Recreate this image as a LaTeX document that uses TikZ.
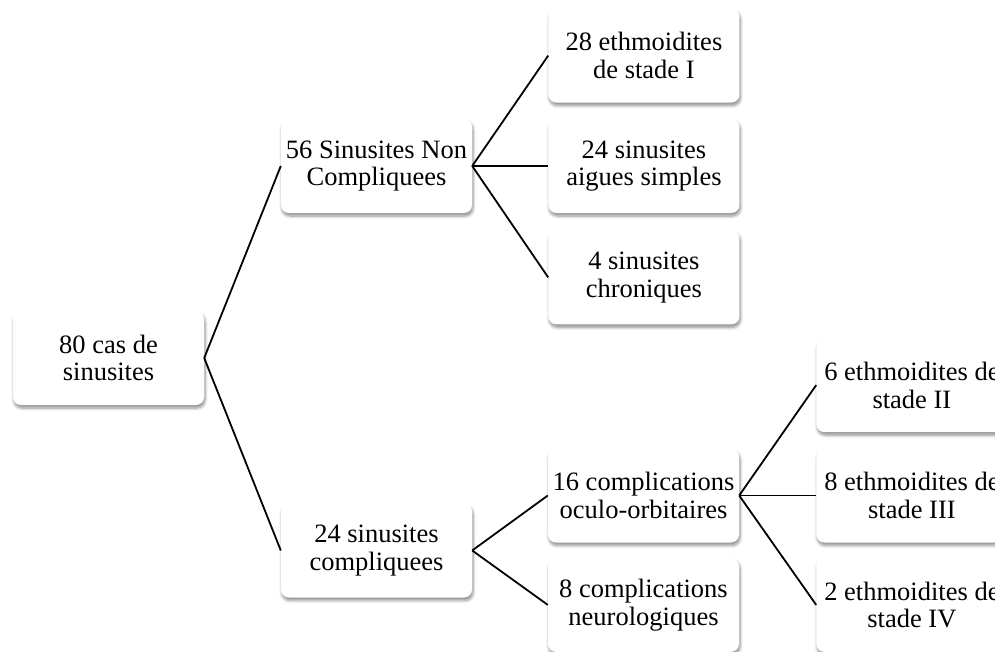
\documentclass[tikz,border=0pt]{standalone}
\usepackage{fontspec}
\setmainfont{Liberation Serif}
\usetikzlibrary{positioning,shadows.blur}

\begin{document}
\begin{tikzpicture}[x=1pt,y=-1pt,
	box/.style={rectangle, rounded corners=8pt, fill=white, minimum width=191pt, minimum height=94pt, inner sep=0pt, align=center, font=\fontsize{26.5}{27.7}\selectfont, blur shadow={shadow xshift=1pt, shadow yshift=-3pt, shadow blur steps=6, shadow blur radius=3pt, shadow opacity=45}},
	link/.style={line width=1.8pt}]
		\useasboundingbox (0,0) rectangle (995,651);
		\clip (0,0) rectangle (995,651);
		\node[box] (root) at (108.5,358) {80 cas de\\sinusites};
		\node[box] (noncomp) at (376.5,166) {56 Sinusites Non\\Compliquees};
		\node[box] (comp) at (376.5,550.5) {24 sinusites\\compliquees};
		\node[box, right=76pt of noncomp] (aigues) {24 sinusites\\aigues simples};
		\node[box, above=16pt of aigues] (ethI) {28 ethmoidites\\de stade I};
		\node[box, below=17pt of aigues] (chron) {4 sinusites\\chroniques};
		\node[box] (oculo) at (643.5,495.5) {16 complications\\oculo-orbitaires};
		\node[box, below=15pt of oculo] (neuro) {8 complications\\neurologiques};
		\node[box, right=77pt of oculo] (ethIII) {8 ethmoidites de\\stade III};
		\node[box, above=16pt of ethIII] (ethII) {6 ethmoidites de\\stade II};
		\node[box, below=15pt of ethIII] (ethIV) {2 ethmoidites de\\stade IV};
		\draw[link] (root.east) -- (noncomp.west);
		\draw[link] (root.east) -- (comp.west);
		\foreach \leaf in {ethI,aigues,chron}
			\draw[link] (noncomp.east) -- (\leaf.west);
		\foreach \leaf in {oculo,neuro}
			\draw[link] (comp.east) -- (\leaf.west);
		\foreach \leaf in {ethII,ethIII,ethIV}
			\draw[link] (oculo.east) -- (\leaf.west);
	\end{tikzpicture}
\end{document}
